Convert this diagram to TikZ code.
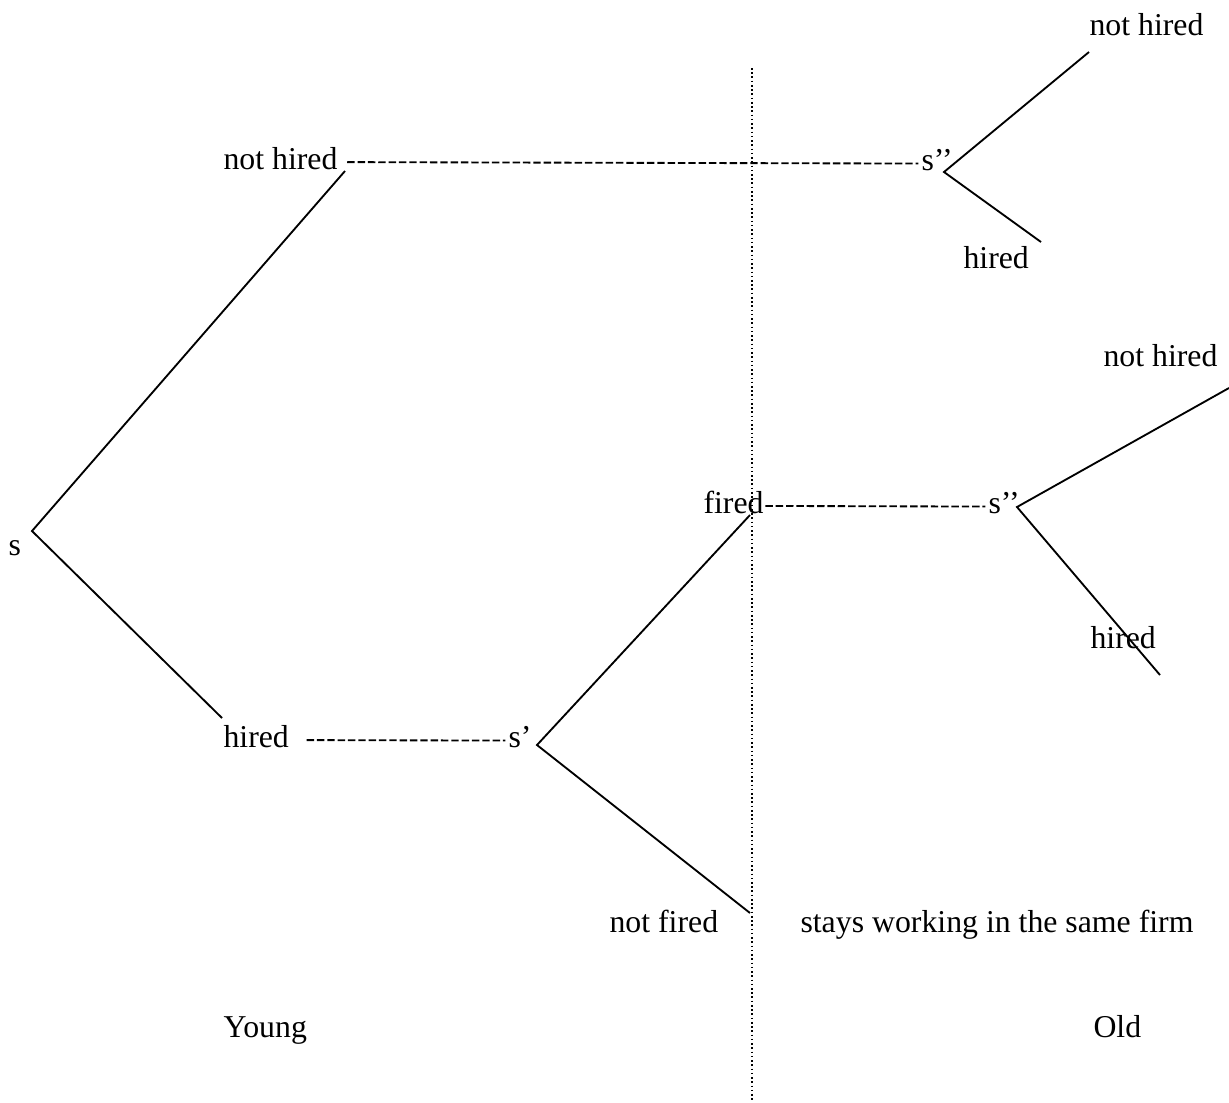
\documentclass[tikz,border=0pt]{standalone}
\usepackage{fontspec}
\setmainfont{Liberation Serif}
\usetikzlibrary{calc}

\begin{document}
\begin{tikzpicture}[x=0.3774pt, y=-0.3774pt,
	lbl/.style={inner sep=0pt, anchor=base west},
	branch/.style={line width=0.7pt},
	hyphens/.style={line width=0.7pt, dash pattern=on 2.8pt off 1.1pt},
	divider/.style={line width=0.5pt, dash pattern=on 0.6pt off 1pt}]

	\fontsize{12}{14}\selectfont

% frame %{{{2

	\useasboundingbox (0,0) rectangle (1229,1102);

% coordinates %{{{2

	\coordinate (S)  at (32,531);
	\coordinate (S1) at (537,745);
	\coordinate (S2) at (944,172);
	\coordinate (S3) at (1017,507);

	\coordinate (NHa) at (345,171);
	\coordinate (Ha)  at (222,718);
	\coordinate (Fd)  at (750,515);
	\coordinate (NF)  at (750,913);
	\coordinate (NHb) at (1089,52);
	\coordinate (Hb)  at (1041,242);
	\coordinate (NHc) at (1229,388);
	\coordinate (Hc)  at (1160,675);

	\coordinate (Dtop) at (752,68);
	\coordinate (Dbot) at (752,1102);

% labels %{{{2

	\node[lbl] (s)   at (8,555)    {s};
	\node[lbl] (nh)  at (223,169)  {not hired};
	\node[lbl] (h)   at (223,747)  {hired};
	\node[lbl] (sp)  at (508,747)  {s’};
	\node[lbl] (spp) at (921,170)  {s’’};
	\node[lbl] (fi)  at (703,513)  {fired};
	\node[lbl] (spq) at (988,513)  {s’’};
	\node[lbl] (nf)  at (609,932)  {not fired};
	\node[lbl] (st)  at (800,932)  {stays working in the same firm};

	\node[lbl] (nhb) at (1089,35)  {not hired};
	\node[lbl] (hb)  at (963,268)  {hired};
	\node[lbl] (nhc) at (1103,366) {not hired};
	\node[lbl] (hc)  at (1090,648) {hired};

	\node[lbl] (yg)  at (223,1037) {Young};
	\node[lbl] (od)  at (1093,1037) {Old};

% divider %{{{2

	\draw[divider] (Dtop) -- (Dbot);

% branches %{{{2

	\draw[branch] (NHa) -- (S) -- (Ha);
	\draw[branch] (Fd) -- (S1) -- (NF);
	\draw[branch] (NHb) -- (S2) -- (Hb);
	\draw[branch] (NHc) -- (S3) -- (Hc);

% hyphen links %{{{2

	\draw[hyphens] ([xshift=3.5pt,yshift=-1.5pt]nh.east) -- ([xshift=-1pt,yshift=-1.5pt]spp.west);
	\draw[hyphens] ([xshift=6.5pt,yshift=-1.5pt]h.east) -- ([xshift=-1pt,yshift=-1.5pt]sp.west);
	\draw[hyphens] ([xshift=0.5pt,yshift=-1.5pt]fi.east) -- ([xshift=-1pt,yshift=-1.5pt]spq.west);

% closing %{{{2

\end{tikzpicture}
\end{document}
